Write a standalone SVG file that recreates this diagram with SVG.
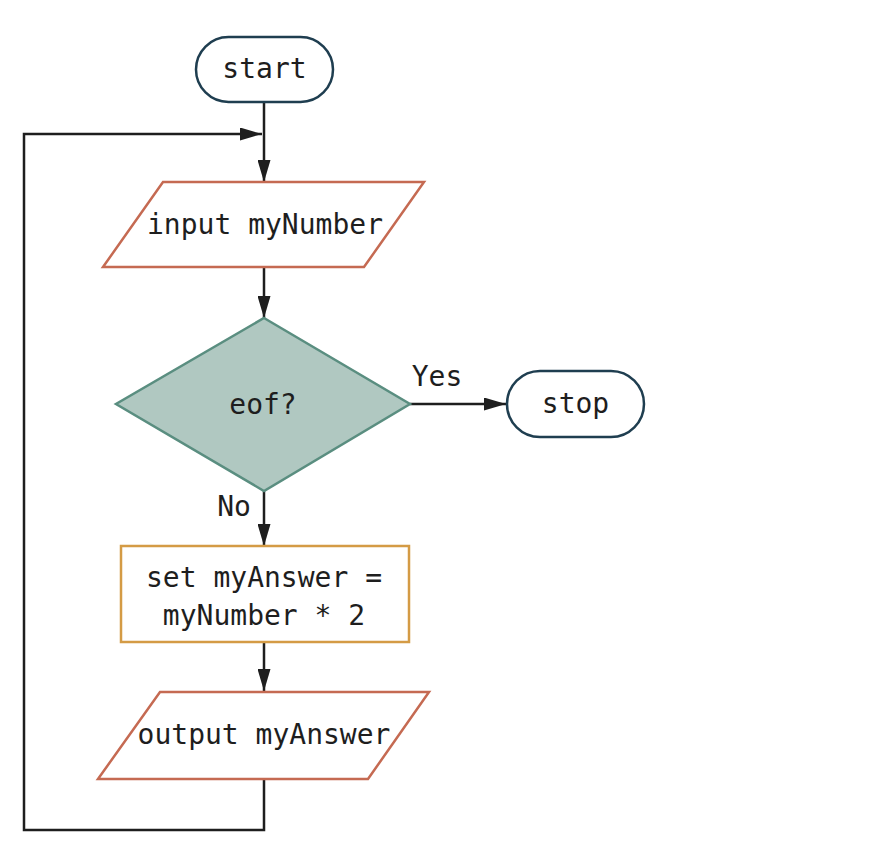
<svg xmlns="http://www.w3.org/2000/svg" width="896" height="852" viewBox="0 0 896 852">
<style>
text{font-family:"DejaVu Sans Mono","Liberation Mono",monospace;font-size:28px;fill:#1e1e1e;text-anchor:middle;dominant-baseline:central}
.term{fill:#fff;stroke:#1f3e50;stroke-width:2.5}
.io{fill:#fff;stroke:#c56a52;stroke-width:2.5}
.dec{fill:#b0c8c1;stroke:#5a8e80;stroke-width:2.5}
.proc{fill:#fff;stroke:#d49b45;stroke-width:2.5}
.edge{fill:none;stroke:#1e1e1e;stroke-width:2.5}
</style>
<defs>
<marker id="a" viewBox="0 0 22 13" refX="22" refY="6.5" markerWidth="22" markerHeight="13" markerUnits="userSpaceOnUse" orient="auto">
<path d="M0,0 L22,6.5 L0,13 Z" fill="#1e1e1e"/>
</marker>
</defs>
<g id="connectors">
<path class="edge" d="M264,102 V182" marker-end="url(#a)"/>
<path class="edge" d="M264,267 V318" marker-end="url(#a)"/>
<path class="edge" d="M410,404 H506" marker-end="url(#a)"/>
<path class="edge" d="M264,491 V546" marker-end="url(#a)"/>
<path class="edge" d="M264,642 V691" marker-end="url(#a)"/>
<path class="edge" d="M264,779 V830 H24 V134 H262" marker-end="url(#a)"/>
<text x="437" y="376">Yes</text>
<text x="234" y="506">No</text>
</g>
<g id="start">
<rect class="term" x="196" y="37" width="137" height="65" rx="32.5"/>
<text x="264.5" y="68.5">start</text>
</g>
<g id="input">
<polygon class="io" points="163,182 424,182 364,267 103,267"/>
<text x="265" y="224">input myNumber</text>
</g>
<g id="eof">
<polygon class="dec" points="264,318 410,404 264,491 116,404"/>
<text x="263" y="404">eof?</text>
</g>
<g id="stop">
<rect class="term" x="507" y="371" width="137" height="66" rx="33"/>
<text x="575.5" y="403">stop</text>
</g>
<g id="process">
<rect class="proc" x="121" y="546" width="288" height="96"/>
<text x="264" y="577">set myAnswer =</text>
<text x="264" y="615">myNumber * 2</text>
</g>
<g id="output">
<polygon class="io" points="160,692 429,692 368,779 98,779"/>
<text x="264" y="734">output myAnswer</text>
</g>
</svg>
